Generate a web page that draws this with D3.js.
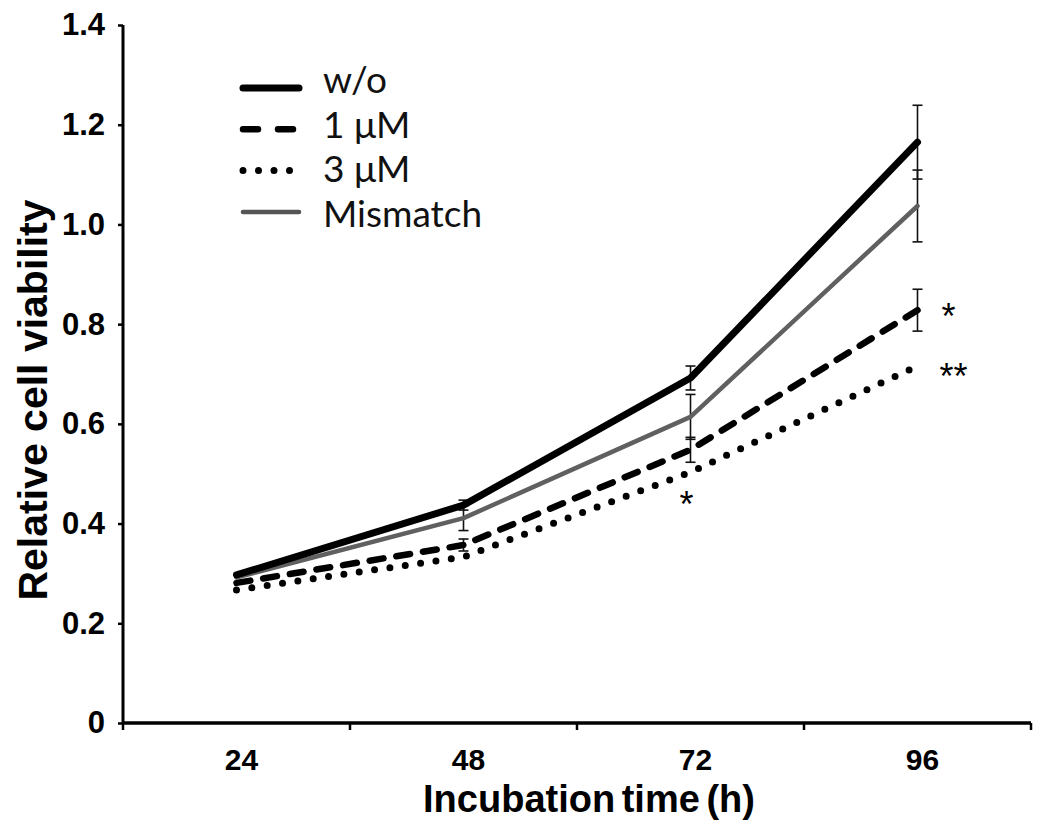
<!DOCTYPE html>
<html>
<head>
<meta charset="utf-8">
<script src="https://cdn.jsdelivr.net/npm/d3@7"></script>
<style>
  body { margin: 0; background: #fff; }
  svg { display: block; }
</style>
</head>
<body>
<div id="chart"></div>
<script>
// data
const times = ["24", "48", "72", "96"];
const seriesNames = ["w/o", "1 μM", "3 μM", "Mismatch"];
const woValues = [0.297, 0.437, 0.692, 1.165];
const oneValues = [0.281, 0.357, 0.548, 0.828];
const threeValues = [0.267, 0.333, 0.503, 0.716];
const mismatchValues = [0.292, 0.411, 0.614, 1.037];
const woErr = [0, 0.01, 0.024, 0.074];
const oneErr = [0, 0.012, 0.025, 0.042];
const threeErr = [0, 0, 0, 0];
const mismatchErr = [0, 0.025, 0.045, 0.072];
const yTicks = [0, 0.2, 0.4, 0.6, 0.8, 1.0, 1.2, 1.4];
// significance marks: [series index, time index, label]
const stars = [[1, 3, "*"], [2, 3, "**"], [2, 2, "*"]];

var W = 1045, H = 835;
var margin = { top: 25, right: 14, bottom: 112, left: 123 };

var svg = d3.select("#chart")
    .append("svg")
    .attr("width", W)
    .attr("height", H);

var x = d3.scaleBand()
    .domain(times)
    .range([margin.left, W - margin.right]);

var y = d3.scaleLinear()
    .domain([0, 1.4])
    .range([H - margin.bottom, margin.top]);

var cx = t => x(t) + x.bandwidth() / 2;

// series styles
var styles = [
    { color: "#000", width: 7, dash: null, cap: "round" },
    { color: "#000", width: 6.5, dash: "14,13", cap: "round" },
    { color: "#000", width: 7, dash: "0,15.5", cap: "round" },
    { color: "#606060", width: 4.5, dash: null, cap: "round" }
];
var values = [woValues, oneValues, threeValues, mismatchValues];
var errs = [woErr, oneErr, threeErr, mismatchErr];

// Y axis
var yAxis = svg.append("g")
    .attr("transform", "translate(" + margin.left + ",0)")
    .call(d3.axisLeft(y).tickValues(yTicks).tickSize(5).tickPadding(13)
        .tickFormat(d => d === 0 ? "0" : d3.format(".1f")(d)));
yAxis.select(".domain").attr("stroke-width", 3)
    .attr("d", "M0," + y(1.4) + "V" + y(0));
yAxis.selectAll(".tick line").attr("stroke-width", 2.5);
yAxis.selectAll(".tick text")
    .attr("font-family", "Liberation Sans, Arial, sans-serif")
    .attr("font-weight", "bold")
    .attr("font-size", 31)
    .attr("fill", "#000");

// X axis
var xAxis = svg.append("g")
    .attr("transform", "translate(0," + y(0) + ")")
    .call(d3.axisBottom(x).tickSize(0).tickPadding(26));
xAxis.select(".domain").attr("stroke-width", 3.5)
    .attr("d", "M" + x.range()[0] + ",0H" + x.range()[1]);
xAxis.selectAll(".tick text")
    .attr("dx", 5)
    .attr("font-family", "Liberation Sans, Arial, sans-serif")
    .attr("font-weight", "bold")
    .attr("font-size", 30)
    .attr("fill", "#000");
// tick marks on the band edges
var edges = times.map(t => x(t)).concat([x.range()[1]]);
xAxis.selectAll(".edge")
    .data(edges)
    .enter().append("line")
    .attr("x1", d => d).attr("x2", d => d)
    .attr("y1", 0).attr("y2", 7)
    .attr("stroke", "#000")
    .attr("stroke-width", 2.5);

// axis titles
svg.append("text")
    .attr("x", (x.range()[0] + x.range()[1]) / 2 + 12)
    .attr("y", 812)
    .attr("text-anchor", "middle")
    .attr("font-family", "Liberation Sans, Arial, sans-serif")
    .attr("font-weight", "bold")
    .attr("font-size", 38)
    .attr("word-spacing", -4)
    .text("Incubation time (h)");

svg.append("text")
    .attr("transform", "translate(47,400) rotate(-90)")
    .attr("text-anchor", "middle")
    .attr("font-family", "Liberation Sans, Arial, sans-serif")
    .attr("font-weight", "bold")
    .attr("font-size", 41)
    .text("Relative cell viability");

// error bars
var capW = 5;
[3, 2, 1, 0].forEach(function (s) {
    var g = svg.append("g").attr("class", "err");
    times.forEach(function (t, i) {
        var e = errs[s][i];
        if (!e) return;
        var v = values[s][i];
        g.append("line")
            .attr("x1", cx(t)).attr("x2", cx(t))
            .attr("y1", y(v + e)).attr("y2", y(v - e))
            .attr("stroke", "#111").attr("stroke-width", 1.6);
        [v + e, v - e].forEach(function (b) {
            g.append("line")
                .attr("x1", cx(t) - capW).attr("x2", cx(t) + capW)
                .attr("y1", y(b)).attr("y2", y(b))
                .attr("stroke", "#111").attr("stroke-width", 1.6);
        });
    });
});

// lines
var line = d3.line()
    .x((d, i) => cx(times[i]))
    .y(d => y(d));

[2, 1, 3, 0].forEach(function (s) {
    var st = styles[s];
    svg.append("path")
        .datum(values[s])
        .attr("fill", "none")
        .attr("stroke", st.color)
        .attr("stroke-width", st.width)
        .attr("stroke-linecap", st.cap)
        .attr("stroke-linejoin", "round")
        .attr("stroke-dasharray", st.dash)
        .attr("d", line);
});

// significance stars (placed next to the point they mark)
var starDx = { "1-3": 31, "2-3": 36, "2-2": -4 };
var starDy = { "1-3": 19, "2-3": 23, "2-2": 45 };
stars.forEach(function (st) {
    var key = st[0] + "-" + st[1];
    svg.append("text")
        .attr("x", cx(times[st[1]]) + starDx[key])
        .attr("y", y(values[st[0]][st[1]]) + starDy[key])
        .attr("text-anchor", "middle")
        .attr("font-family", "Liberation Sans, Arial, sans-serif")
        .attr("font-size", 36)
        .attr("fill", "#000")
        .text(st[2]);
});

// legend
var legend = svg.append("g");
seriesNames.forEach(function (name, i) {
    var st = styles[i];
    var ly = 88 + i * 41.3;
    legend.append("line")
        .attr("x1", 243).attr("x2", i === 2 ? 290 : 299)
        .attr("y1", ly).attr("y2", ly)
        .attr("stroke", i === 3 ? "#555" : st.color)
        .attr("stroke-width", st.width)
        .attr("stroke-linecap", st.cap)
        .attr("stroke-dasharray", i === 1 ? "15,20" : st.dash);
    legend.append("text")
        .attr("x", 323)
        .attr("y", 93 + i * 44.6)
        .attr("font-family", "Lato, 'Open Sans', sans-serif")
        .attr("font-size", 37)
        .attr("fill", "#111")
        .text(name);
});
</script>
</body>
</html>
